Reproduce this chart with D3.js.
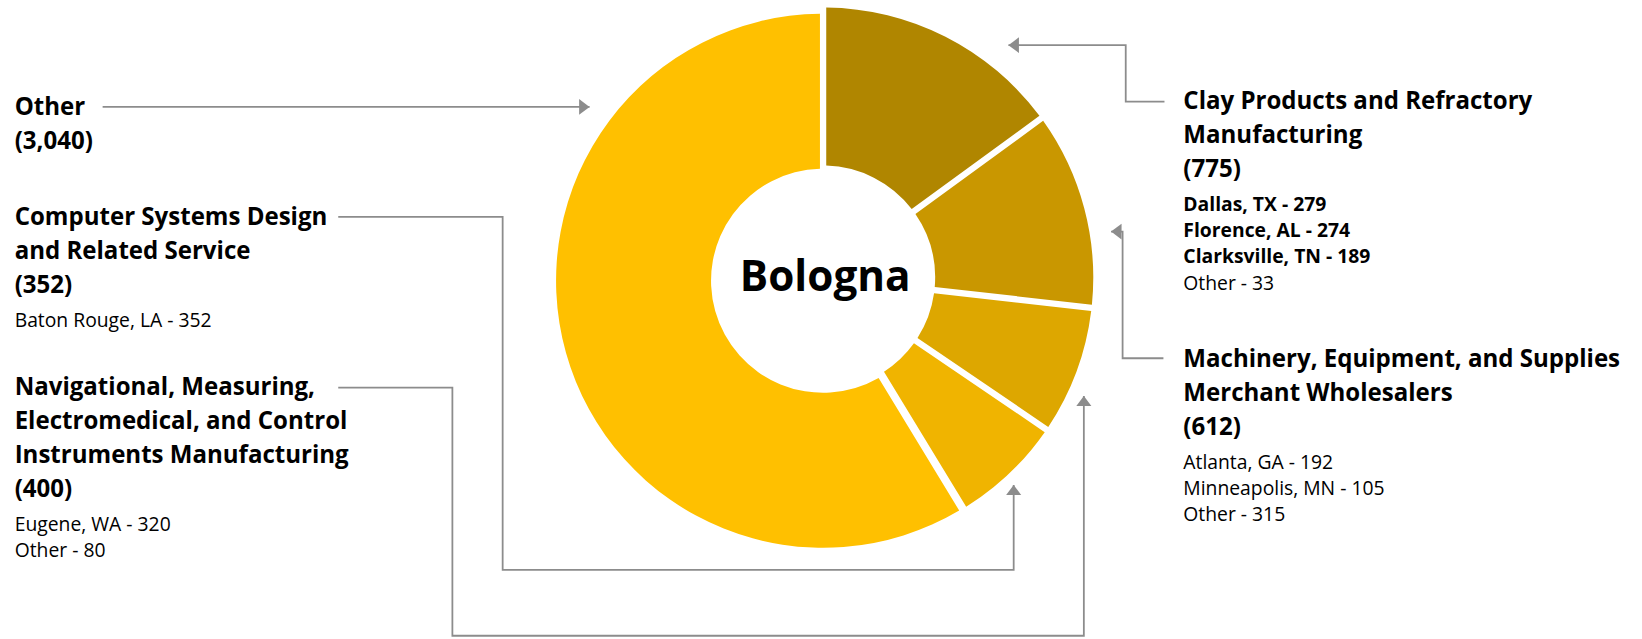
<!DOCTYPE html>
<html>
<head>
<meta charset="utf-8">
<script src="https://cdn.jsdelivr.net/npm/d3@7/dist/d3.min.js"></script>
<style>
  body { margin: 0; background: #fff; }
  svg { display: block; }
  text { font-family: "Open Sans", sans-serif; fill: #000; }
</style>
</head>
<body>
<div id="chart"></div>
<script>
// data
var centerLabel = "Bologna";
var categories = [
    "Clay Products and Refractory Manufacturing",
    "Machinery, Equipment, and Supplies Merchant Wholesalers",
    "Navigational, Measuring, Electromedical, and Control Instruments Manufacturing",
    "Computer Systems Design and Related Service",
    "Other"
];
var values = [775, 612, 400, 352, 3040];
var titleLines = [
    ["Clay Products and Refractory", "Manufacturing"],
    ["Machinery, Equipment, and Supplies", "Merchant Wholesalers"],
    ["Navigational, Measuring,", "Electromedical, and Control", "Instruments Manufacturing"],
    ["Computer Systems Design", "and Related Service"],
    ["Other"]
];
var detailLabels = [
    ["Dallas, TX - 279", "Florence, AL - 274", "Clarksville, TN - 189", "Other - 33"],
    ["Atlanta, GA - 192", "Minneapolis, MN - 105", "Other - 315"],
    ["Eugene, WA - 320", "Other - 80"],
    ["Baton Rouge, LA - 352"],
    []
];
var detailBold = [
    [true, true, true, false],
    [false, false, false],
    [false, false],
    [false],
    []
];

// layout (drawing units: viewBox 1568 x 610, scaled to the 1642 x 639 window)
var colors = ["#b08600", "#c99700", "#dda700", "#f0b400", "#ffc000"];
var lineColor = "#8c8c8c";
var cx = 786, cy = 265, rOut = 258, rIn = 107;
var titleStep = 32.5, detailStep = 25;
var labelPos = [
    { x: 1130, y: 104, route: [[1112, 97], [1075, 97], [1075, 43], [963, 43]] },
    { x: 1130, y: 350, route: [[1111, 342], [1072, 342], [1072, 221], [1061, 221]] },
    { x: 14, y: 377, route: [[323, 370], [432, 370], [432, 607], [1035, 607], [1035, 378]] },
    { x: 14, y: 215, route: [[323, 207], [480, 207], [480, 544], [968, 544], [968, 463]] },
    { x: 14, y: 110, route: [[98, 102], [563, 102]] }
];

var svg = d3.select("#chart").append("svg")
    .attr("width", 1642)
    .attr("height", 639)
    .attr("viewBox", "0 0 1568 610");

// pick font sizes so the stand-in font takes the same width as the original
var fitSize = function (str, weight, target, base) {
    var t = svg.append("text").attr("font-size", base).attr("font-weight", weight).text(str);
    var w = t.node().getComputedTextLength();
    t.remove();
    return base * target / w;
};
var titleSize = fitSize("Clay Products and Refractory", 700, 333, 25);
var detailSize = fitSize("Minneapolis, MN - 105", 400, 192, 18);
var centerSize = fitSize("Bologna", 700, 163, 48);

var defs = svg.append("defs");
defs.append("marker")
    .attr("id", "arrow")
    .attr("markerUnits", "userSpaceOnUse")
    .attr("viewBox", "0 -8 10 16")
    .attr("refX", 10)
    .attr("refY", 0)
    .attr("markerWidth", 10)
    .attr("markerHeight", 16)
    .attr("orient", "auto")
  .append("path")
    .attr("d", "M0,-7.5L10,0L0,7.5Z")
    .attr("fill", lineColor);

// donut
var pie = d3.pie().sort(null).value(function (d) { return d; });
var arc = d3.arc()
    .innerRadius(rIn)
    .outerRadius(rOut)
    .padRadius(rOut)
    .padAngle(6 / rOut);
// the big "Other" ring sits a little lower and smaller in the original
var otherArc = d3.arc()
    .innerRadius(rIn)
    .outerRadius(rOut - 3)
    .padRadius(rOut)
    .padAngle(6 / rOut);
var last = values.length - 1;

var donut = svg.append("g").attr("transform", "translate(" + cx + "," + cy + ")");
donut.selectAll("path")
    .data(pie(values))
    .enter().append("path")
    .attr("d", function (d, i) { return i === last ? otherArc(d) : arc(d); })
    .attr("transform", function (d, i) { return i === last ? "translate(0,3)" : null; })
    .attr("fill", function (d, i) { return colors[i]; });

donut.append("text")
    .attr("x", 2)
    .attr("y", 13)
    .attr("text-anchor", "middle")
    .attr("font-size", centerSize)
    .attr("font-weight", 700)
    .text(centerLabel);

// leader lines
var line = d3.line();
svg.append("g").selectAll("path")
    .data(labelPos)
    .enter().append("path")
    .attr("d", function (d) { return line(d.route); })
    .attr("fill", "none")
    .attr("stroke", lineColor)
    .attr("stroke-width", 1.7)
    .attr("marker-end", "url(#arrow)");

// labels
var fmt = d3.format(",");
var labels = svg.append("g").selectAll("g")
    .data(categories)
    .enter().append("g");

labels.each(function (c, i) {
    var g = d3.select(this);
    var p = labelPos[i];
    var y = p.y;
    titleLines[i].forEach(function (s) {
        g.append("text").attr("x", p.x).attr("y", y)
            .attr("font-size", titleSize).attr("font-weight", 700).text(s);
        y += titleStep;
    });
    g.append("text").attr("x", p.x).attr("y", y)
        .attr("font-size", titleSize).attr("font-weight", 700)
        .text("(" + fmt(values[i]) + ")");
    y += titleStep;
    detailLabels[i].forEach(function (s, j) {
        g.append("text").attr("x", p.x).attr("y", y)
            .attr("font-size", detailSize)
            .attr("font-weight", detailBold[i][j] ? 700 : 400)
            .text(s);
        y += detailStep;
    });
});
</script>
</body>
</html>
